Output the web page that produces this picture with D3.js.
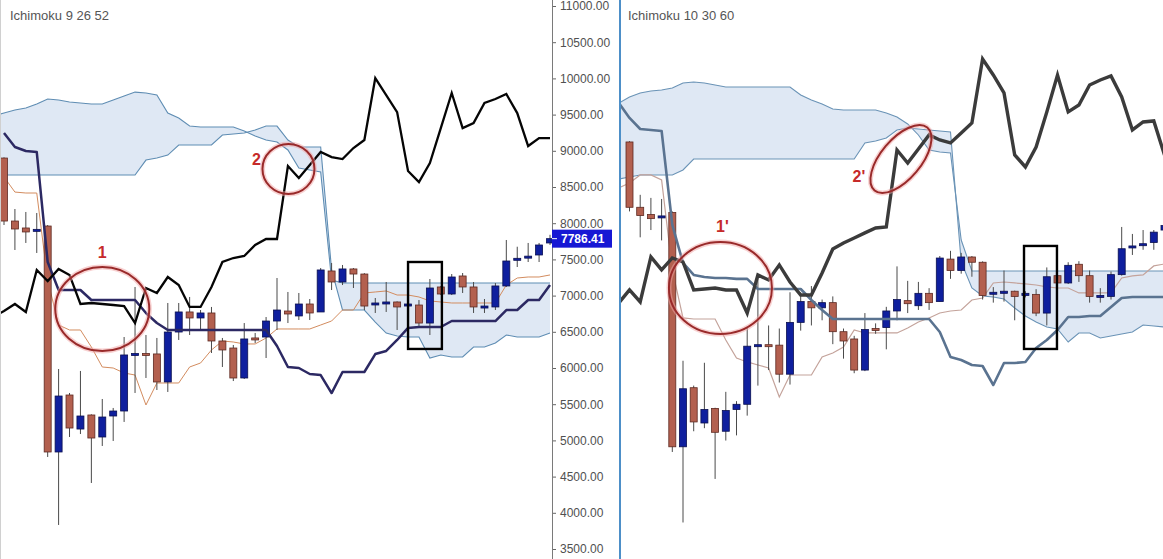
<!DOCTYPE html>
<html><head><meta charset="utf-8">
<script src="https://cdnjs.cloudflare.com/ajax/libs/d3/7.8.5/d3.min.js"></script>
<style>html,body{margin:0;padding:0;background:#fff;overflow:hidden}</style>
</head><body><svg id="c" width="1163" height="559"></svg>
<script>
// ---------- DATA ----------
const candleIndex = d3.range(0, 51);      // candle slots 0..50
const lineIndex = d3.range(-1, 51);       // line points -1..50
const priceTicks = [11000,10500,10000,9500,9000,8500,8000,7500,7000,6500,6000,5500,5000,4500,4000,3500];
const lastPrice = 7786.41;

const candleOpen  = [8900,8030,7934,7890,7961,4840,5627,5157,5351,5047,5337,5406,6180,6200,6194,5807,6497,6774,6691,6760,6373,6276,5862,6415,6428,6649,6787,6719,6884,6774,7340,7188,7368,7298,6884,6884,6912,6856,6870,6621,7119,7022,7271,7119,6843,6843,7133,7495,7520,7561,7727];
const candleHigh  = [8910,8196,8155,8141,7975,5986,5655,5959,5360,5572,5448,6428,7119,6456,6415,6898,6898,6981,6801,6843,6415,6318,6621,6484,6704,7243,7050,7036,6953,7381,7450,7423,7381,7310,6967,7188,6920,6912,6939,7229,7133,7298,7312,7188,6953,7174,7768,7675,7727,7727,7840];
const candleLow   = [7975,7630,7727,7589,4771,3832,5047,5088,4412,4923,4992,5255,5655,5862,5696,5669,6387,6456,6525,6207,6014,5820,5848,6345,6138,6525,6621,6663,6663,6774,7077,7146,7105,6801,6760,6774,6525,6830,6580,6456,7008,7008,7036,6760,6760,6801,7120,7395,7464,7464,7700];
const candleClose = [8030,7920,7879,7915,4840,5613,5171,5337,5033,5323,5406,6180,6200,6180,5807,6497,6774,6691,6760,6373,6249,5862,6401,6401,6649,6801,6746,6884,6760,7354,7188,7368,7298,6856,6898,6912,6843,6884,6621,7105,7022,7257,7119,6843,6856,7133,7478,7515,7545,7699,7786.41];

// Ichimoku 9 26 52 (left)
const leftChikou = [6704,6787,6884,6774,7354,7202,7368,7285,6884,6898,6884,6870,6856,6621,7105,7036,7257,7146,6843,6843,7119,7464,7519,7547,7699,7782,7782,8790,8624,8803,8983,8914,8886,9038,9149,10005,9770,9535,8721,8569,8831,9314,9798,9314,9383,9660,9715,9784,9521,9066,9176,9176];
const leftKijun  = [null,9245,9052,8997,8983,7464,7077,7077,7077,6939,6939,6939,6939,6939,6759,6621,6525,6525,6525,6525,6525,6525,6525,6525,6525,6525,6304,6014,6000,5917,5903,5654,5945,5945,5945,6193,6235,6387,6553,6566,6566,6566,6649,6649,6649,6649,6649,6801,6801,6939,6939,7146];
const leftTenkan = [null,8638,8430,8417,8417,7215,6594,6525,6525,6290,6014,6000,5931,5903,5489,5793,5793,5793,6014,6069,6249,6373,6359,6332,6332,6414,6539,6539,6539,6539,6594,6649,6801,6801,7036,7050,7064,7008,7008,6981,6926,6912,6898,6898,6898,6898,6898,7146,7243,7257,7257,7285];
const leftSpanA  = [9480,9521,9563,9591,9646,9715,9701,9673,9660,9646,9646,9701,9756,9811,9798,9770,9521,9452,9342,9328,9328,9328,9328,9273,9204,9149,9121,9011,8762,8735,8707,7215,7174,7174,7174,7174,7174,7174,7174,7174,7174,7174,7174,7174,7174,7174,7174,7174,7174,7174,7174,7174];
const leftSpanB  = [8665,8665,8665,8665,8665,8665,8665,8665,8665,8665,8665,8665,8665,8665,8872,8900,8941,9080,9080,9080,9080,9218,9231,9245,9287,9342,9342,9149,9052,9052,9052,7354,6801,6801,6801,6635,6483,6442,6428,6428,6138,6180,6152,6152,6290,6290,6345,6456,6428,6428,6428,6483];

// Ichimoku 10 30 60 (right)
const rightChikou = [6756,6929,6769,7369,7196,7356,7302,6929,6942,6955,6929,6929,6622,7129,7062,7262,7035,6862,6862,7156,7475,7555,7622,7689,7755,7768,8793,8620,8807,8993,8927,8887,9020,9153,10005,9792,9553,8727,8567,8833,9300,9792,9300,9393,9659,9726,9779,9499,9060,9166,9180,8727];
const rightKijun  = [9419,9220,9073,9060,9047,7795,7289,7129,7102,7089,7089,7076,7076,6942,6942,6942,6942,6942,6795,6662,6542,6542,6542,6542,6542,6542,6542,6542,6542,6542,6369,6036,5996,5929,5916,5663,5956,5956,5969,6156,6262,6396,6569,6569,6582,6582,6702,6822,6835,6835,6835,6835];
const rightTenkan = [8288,8354,8461,8461,8394,7195,6556,6542,6542,6542,6263,6023,5970,5930,5890,5503,5796,5796,5796,6036,6089,6169,6396,6356,6356,6356,6356,6423,6502,6556,6622,6649,6662,6795,6822,7022,7035,7022,7009,6995,6969,6955,6955,6889,6889,6889,6889,7089,7116,7129,7249,7275];
const rightSpanA  = [9419,9499,9552,9579,9592,9619,9686,9699,9686,9659,9632,9632,9632,9632,9632,9632,9632,9526,9459,9406,9339,9326,9326,9326,9326,9286,9233,9140,8993,8793,8767,8753,7594,7182,7182,7182,7182,7182,7182,7182,7182,7182,7182,7182,7182,7182,7182,7182,7182,7182,7182,7182];
const rightSpanB  = [8407,8434,8461,8461,8461,8461,8527,
                     8673,8673,8673,8673,8673,8673,8673,8673,8673,8673,8673,8673,8673,8673,8673,8673,
                     8886,8913,8953,9060,9086,9073,9060,9047,9033,7302,6955,6849,6835,6809,6689,6582,6502,6436,6409,6236,6356,6356,6289,6316,6343,6369,6462,6449,6436];

// annotations (candle index / price coordinates)
const leftNotes  = [{t:"1", i:9.0, p:6815, rx:47, ry:42, rot:0, lx:0, ly:-51},
                    {t:"2", i:26.05, p:8749, rx:26, ry:25, rot:0, lx:-32, ly:-4}];
const rightNotes = [{t:"1'", i:8.5, p:6955, rx:51.5, ry:46, rot:0, lx:2, ly:-56},
                    {t:"2'", i:25.37, p:8673, rx:41, ry:20, rot:-50, lx:-42, ly:23}];
const leftBox  = {i0:37.0, i1:40.1, p0:7464, p1:6263};
const rightBox = {i0:36.87, i1:39.95, p0:7515, p1:6143};

// ---------- DRAW ----------
const svg = d3.select("#c");
const W = 1163, H = 559;
const xL = d3.scaleLinear().domain([0,50]).range([4,550]);
const yL = d3.scaleLinear().domain([3500,11000]).range([549,6]);
const xR = d3.scaleLinear().domain([0,50]).range([629.5,1164.5]);
const yR = d3.scaleLinear().domain([3500,11000]).range([547.4,-15.7]);

const defs = svg.append("defs");
defs.append("clipPath").attr("id","clipL").append("rect").attr("x",0).attr("y",0).attr("width",552).attr("height",H);
defs.append("clipPath").attr("id","clipR").append("rect").attr("x",621).attr("y",0).attr("width",W-621).attr("height",H);

svg.append("rect").attr("width",W).attr("height",H).attr("fill","#fff");

function panel(clip, x, y, cfg){
  const g = svg.append("g").attr("clip-path", `url(#${clip})`);
  const pts = lineIndex.map((d,k)=>({i:d, a:cfg.spanA[k], b:cfg.spanB[k]}));
  g.append("path").datum(pts)
    .attr("d", d3.area().x(d=>x(d.i)).y0(d=>y(d.a)).y1(d=>y(d.b)))
    .attr("fill", cfg.cloudFill);
  const mkLine = arr => d3.line().defined((d,k)=>arr[k]!=null).x(d=>x(d)).y((d,k)=>y(arr[k]));
  [cfg.spanA, cfg.spanB].forEach(arr=>{
    g.append("path").datum(lineIndex).attr("d", mkLine(arr)).attr("fill","none")
      .attr("stroke", cfg.cloudLine).attr("stroke-width",1.1);
  });
  g.append("path").datum(lineIndex).attr("d", mkLine(cfg.tenkan)).attr("fill","none")
    .attr("stroke", cfg.tenkanColor).attr("stroke-width", cfg.tenkanW);

  const bw = 7;
  const c = g.selectAll("g.candle").data(candleIndex).join("g");
  c.append("line").attr("x1",d=>x(d)).attr("x2",d=>x(d))
    .attr("y1",d=>y(candleHigh[d])).attr("y2",d=>y(candleLow[d]))
    .attr("stroke","#4a4a4a").attr("stroke-width",1);
  c.append("rect")
    .attr("x",d=>x(d)-bw/2)
    .attr("y",d=>y(Math.max(candleOpen[d],candleClose[d])))
    .attr("width",bw)
    .attr("height",d=>Math.max(2, Math.abs(y(candleOpen[d])-y(candleClose[d]))))
    .attr("fill",d=>candleClose[d]>=candleOpen[d] ? "#0f1f9e" : "#b3604f")
    .attr("stroke",d=>candleClose[d]>=candleOpen[d] ? "#0b1050" : "#5e2a22")
    .attr("stroke-width",0.8);

  g.append("path").datum(lineIndex).attr("d", mkLine(cfg.kijun)).attr("fill","none")
    .attr("stroke", cfg.kijunColor).attr("stroke-width", cfg.kijunW).attr("stroke-linejoin","round");
  g.append("path").datum(lineIndex).attr("d", mkLine(cfg.chikou)).attr("fill","none")
    .attr("stroke", cfg.chikouColor).attr("stroke-width", cfg.chikouW).attr("stroke-linejoin","miter");

  // annotations
  cfg.notes.forEach(n=>{
    const cx = x(n.i), cy = y(n.p);
    const e = g.append("g").attr("transform",`translate(${cx},${cy}) rotate(${n.rot})`);
    e.append("ellipse").attr("rx",n.rx).attr("ry",n.ry).attr("fill","none")
      .attr("stroke","#f2a3a3").attr("stroke-width",5).attr("opacity",0.5);
    e.append("ellipse").attr("rx",n.rx).attr("ry",n.ry).attr("fill","none")
      .attr("stroke","#992a2a").attr("stroke-width",2);
    g.append("text").attr("x",cx+n.lx).attr("y",cy+n.ly).attr("text-anchor","middle")
      .attr("font-family","Liberation Sans, Arial, sans-serif").attr("font-weight","bold")
      .attr("font-size",16).attr("fill","#c62a2a").text(n.t);
  });
  const b = cfg.box;
  g.append("rect").attr("x",x(b.i0)).attr("y",y(b.p0))
    .attr("width",x(b.i1)-x(b.i0)).attr("height",y(b.p1)-y(b.p0))
    .attr("fill","none").attr("stroke","#000").attr("stroke-width",2.4);

  svg.append("text").attr("x",cfg.titleX).attr("y",20)
    .attr("font-family","Liberation Sans, Arial, sans-serif").attr("font-size",13)
    .attr("fill","#555").text(cfg.title);
}

panel("clipL", xL, yL, {
  spanA:leftSpanA, spanB:leftSpanB, tenkan:leftTenkan, kijun:leftKijun, chikou:leftChikou,
  cloudFill:"#dfe8f4", cloudLine:"#5f8db3",
  tenkanColor:"#d38c5f", tenkanW:1,
  kijunColor:"#2c2963", kijunW:2.5,
  chikouColor:"#050505", chikouW:2.3,
  notes:leftNotes, box:leftBox, title:"Ichimoku 9 26 52", titleX:10
});
panel("clipR", xR, yR, {
  spanA:rightSpanA, spanB:rightSpanB, tenkan:rightTenkan, kijun:rightKijun, chikou:rightChikou,
  cloudFill:"#dfe8f4", cloudLine:"#6a93b6",
  tenkanColor:"#c4a39b", tenkanW:1.2,
  kijunColor:"#5a7390", kijunW:2.6,
  chikouColor:"#3b3b3b", chikouW:3.4,
  notes:rightNotes, box:rightBox, title:"Ichimoku 10 30 60", titleX:628
});

// axis
const ax = svg.append("g").attr("transform","translate(552,0)")
  .call(d3.axisRight(yL).tickValues(priceTicks).tickFormat(d3.format(".2f")).tickSize(4).tickPadding(4));
ax.select(".domain").remove();
ax.selectAll(".tick line").attr("stroke","#666");
ax.selectAll(".tick text").attr("font-family","Liberation Sans, Arial, sans-serif").attr("font-size",12).attr("fill","#505050");
svg.append("line").attr("x1",552.5).attr("x2",552.5).attr("y1",0).attr("y2",H).attr("stroke","#7a7a7a").attr("stroke-width",1);

// last price tag
const ly = yL(lastPrice);
svg.append("rect").attr("x",552).attr("y",ly-9).attr("width",60).attr("height",18).attr("fill","#1717d4");
svg.append("line").attr("x1",552).attr("x2",557).attr("y1",ly).attr("y2",ly).attr("stroke","#fff");
svg.append("text").attr("x",561).attr("y",ly).attr("dy","0.35em")
  .attr("font-family","Liberation Sans, Arial, sans-serif").attr("font-size",12).attr("font-weight","bold")
  .attr("fill","#fff").text(d3.format(".2f")(lastPrice));

// borders
svg.append("line").attr("x1",0.5).attr("x2",0.5).attr("y1",0).attr("y2",H).attr("stroke","#d0d0d0");
svg.append("line").attr("x1",620).attr("x2",620).attr("y1",0).attr("y2",H).attr("stroke","#4d8fc8").attr("stroke-width",2);
</script></body></html>
